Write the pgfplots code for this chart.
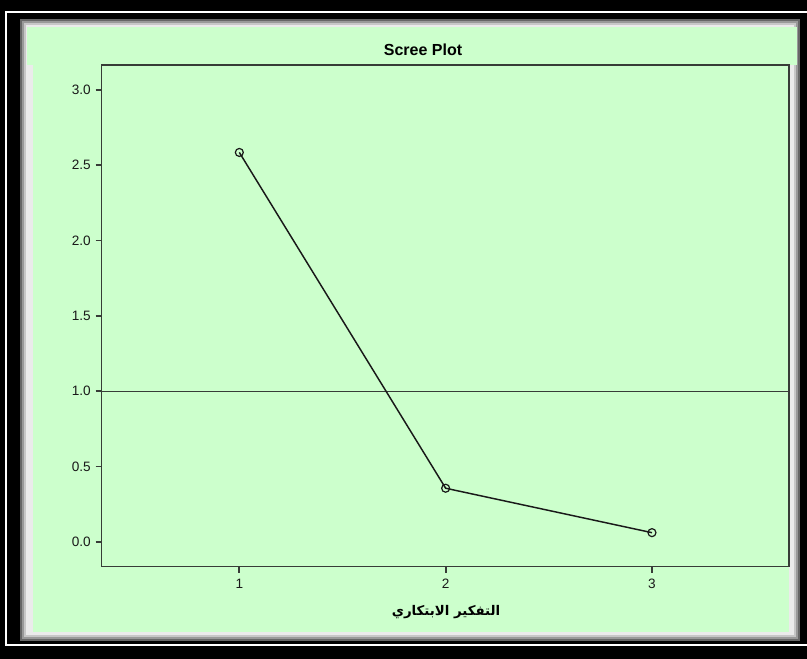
\documentclass[border=0pt]{standalone}
\usepackage{fontspec}
\setmainfont{Liberation Sans}
\newfontfamily\arabicfont[Script=Arabic]{DejaVu Sans}
\usepackage{pgfplots}
\pgfplotsset{compat=1.18}
\TeXXeTstate=1
\definecolor{bggreen}{RGB}{204,255,204}
\definecolor{axgray}{RGB}{55,60,55}
\begin{document}
\begin{tikzpicture}[x=0.75pt,y=0.75pt]
\useasboundingbox (0,0) rectangle (807,659);
\fill[black] (0,0) rectangle (807,659);
\draw[white, line width=1.6pt] (807,647) -- (6,647) -- (6,14) -- (807,14);
\fill[black!60] (20,18) rectangle (800,640);
\fill[black!40] (22,20) rectangle (798,638);
\fill[black!22] (24,22) rectangle (796,636);
\fill[black!8] (26,24) rectangle (794,634);
\fill[bggreen] (27,594) rectangle (797,632);
\fill[bggreen] (33,27) rectangle (789,594);
\begin{axis}[
  at={(76.125pt,69.225pt)}, anchor=south west,
  scale only axis, width=515.6pt, height=376.3pt,
  xmin=0.332, xmax=3.664, ymin=-0.166, ymax=3.166,
  xtick={1,2,3}, ytick={0,0.5,1,1.5,2,2.5,3},
  tick align=outside, tick pos=left,
  major tick length=4.5pt,
  axis line style={axgray, line width=1.1pt},
  every tick/.style={axgray, line width=1.3pt},
  /pgf/number format/assume math mode=true,
  yticklabel={\pgfmathprintnumber[fixed, fixed zerofill, precision=1]{\tick}},
  tick label style={font=\fontsize{10.2}{12}\selectfont, text=black!90},
  xticklabel style={yshift=-1pt},
  clip=false,
]
\addplot[axgray, line width=0.9pt, forget plot] coordinates {(0.332,1) (3.664,1)};
\addplot[black!90, line width=1.1pt, mark=o, mark size=3pt, mark options={solid, line width=0.9pt}] coordinates {(1,2.585) (2,0.355) (3,0.06)};
\end{axis}
\node[font=\bfseries\fontsize{12}{14}\selectfont] at (423,609.5) {Scree Plot};
\node[font=\arabicfont\bfseries\fontsize{10}{13}\selectfont] at (446,47) {\beginR التفكير الابتكاري\endR};
\end{tikzpicture}
\end{document}
